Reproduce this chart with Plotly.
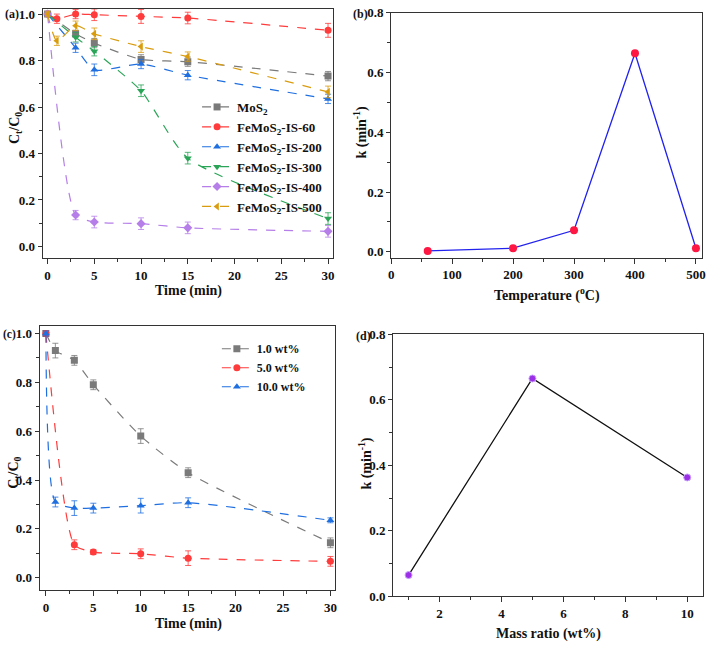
import plotly.graph_objects as go

W, H = 709, 650

# ---------------- data ----------------
# (a) degradation for different calcination temperatures
t_a_mos2 = [0, 3, 5, 10, 15, 30]
c_mos2 = [1.0, 0.915, 0.875, 0.805, 0.795, 0.733]
e_mos2 = [0.01, 0.015, 0.02, 0.02, 0.02, 0.02]

t_a_60 = [0, 1, 3, 5, 10, 15, 30]
c_60 = [1.0, 0.98, 1.0, 0.997, 0.99, 0.983, 0.93]
e_60 = [0.01, 0.02, 0.02, 0.025, 0.03, 0.025, 0.03]

t_a_200 = [0, 3, 5, 10, 15, 30]
c_200 = [1.0, 0.855, 0.76, 0.785, 0.737, 0.635]
e_200 = [0.01, 0.02, 0.025, 0.02, 0.02, 0.02]

t_a_300 = [0, 3, 5, 10, 15, 30]
c_300 = [1.0, 0.90, 0.84, 0.67, 0.38, 0.12]
e_300 = [0.01, 0.02, 0.02, 0.025, 0.025, 0.025]

t_a_400 = [0, 3, 5, 10, 15, 30]
c_400 = [1.0, 0.135, 0.105, 0.098, 0.08, 0.065]
e_400 = [0.01, 0.02, 0.025, 0.025, 0.025, 0.025]

t_a_500 = [0, 1, 3, 5, 10, 15, 30]
c_500 = [1.0, 0.885, 0.95, 0.915, 0.86, 0.817, 0.665]
e_500 = [0.01, 0.02, 0.02, 0.025, 0.025, 0.02, 0.025]

# (b) rate constant vs temperature
temps = [60, 200, 300, 400, 500]
k_temp = [0.003, 0.012, 0.072, 0.665, 0.012]

# (c) degradation for different mass ratios
t_c_1 = [0, 1, 3, 5, 10, 15, 30]
c_1 = [1.0, 0.93, 0.89, 0.79, 0.58, 0.43, 0.143]
e_1 = [0.01, 0.03, 0.02, 0.02, 0.03, 0.02, 0.02]

t_c_5 = [0, 3, 5, 10, 15, 30]
c_5 = [1.0, 0.135, 0.105, 0.098, 0.08, 0.067]
e_5 = [0.01, 0.02, 0.01, 0.02, 0.03, 0.02]

t_c_10 = [0, 1, 3, 5, 10, 15, 30]
c_10 = [1.0, 0.31, 0.285, 0.285, 0.295, 0.307, 0.235]
e_10 = [0.01, 0.02, 0.03, 0.02, 0.03, 0.02, 0.01]

# (d) rate constant vs mass ratio
mass = [1, 5, 10]
k_mass = [0.065, 0.665, 0.363]

# ---------------- helpers ----------------
def px(x):
    return x / W

def py(y):
    return 1 - y / H

FONT = "Liberation Serif"
INK = "#111111"

fig = go.Figure()

def add_series(x, y, e, name, color, symbol, xa, ya, legend, size=7):
    fig.add_trace(go.Scatter(
        x=x, y=y, name=name, mode="lines+markers",
        xaxis=xa, yaxis=ya, legend=legend,
        line=dict(color=color, width=1.2, dash="dash", shape="spline", smoothing=0.6),
        marker=dict(color=color, symbol=symbol, size=size),
        error_y=dict(type="data", array=e, visible=True, color=color,
                     thickness=0.8, width=3),
    ))

# panel (a)
add_series(t_a_mos2, c_mos2, e_mos2, "MoS<sub>2</sub>", "#7a7a7a", "square", "x", "y", "legend")
add_series(t_a_60, c_60, e_60, "FeMoS<sub>2</sub>-IS-60", "#ff3b3b", "circle", "x", "y", "legend")
add_series(t_a_200, c_200, e_200, "FeMoS<sub>2</sub>-IS-200", "#1f6fe0", "triangle-up", "x", "y", "legend")
add_series(t_a_300, c_300, e_300, "FeMoS<sub>2</sub>-IS-300", "#2aa557", "triangle-down", "x", "y", "legend")
add_series(t_a_400, c_400, e_400, "FeMoS<sub>2</sub>-IS-400", "#b57ee8", "diamond", "x", "y", "legend")
add_series(t_a_500, c_500, e_500, "FeMoS<sub>2</sub>-IS-500", "#d99c0f", "triangle-left", "x", "y", "legend")

# panel (b)
fig.add_trace(go.Scatter(
    x=temps, y=k_temp, mode="lines+markers", xaxis="x2", yaxis="y2", showlegend=False,
    line=dict(color="#2222ee", width=1.3),
    marker=dict(color="#ff1744", size=8),
))

# panel (c)
add_series(t_c_1, c_1, e_1, "1.0 wt%", "#7a7a7a", "square", "x3", "y3", "legend2")
add_series(t_c_5, c_5, e_5, "5.0 wt%", "#ff3b3b", "circle", "x3", "y3", "legend2")
add_series(t_c_10, c_10, e_10, "10.0 wt%", "#1f6fe0", "triangle-up", "x3", "y3", "legend2")

# panel (d)
fig.add_trace(go.Scatter(
    x=mass, y=k_mass, mode="lines+markers", xaxis="x4", yaxis="y4", showlegend=False,
    line=dict(color=INK, width=1.3),
    marker=dict(color="#9b30e6", size=7, line=dict(color="#c9a0ff", width=1)),
))

tickfont = dict(family=FONT, size=13, color=INK, weight="bold")

def xaxis(domain, rng, dtick, minor_dtick, anchor, tick0=0):
    return dict(domain=domain, range=rng, anchor=anchor, tick0=tick0, dtick=dtick,
                showgrid=False, zeroline=False, showline=True, linecolor="#333333",
                linewidth=1.2, mirror=True, ticks="outside", ticklen=5, tickcolor="#333333",
                tickfont=tickfont,
                minor=dict(ticks="outside", ticklen=3, dtick=minor_dtick, tick0=tick0,
                           tickcolor="#333333", showgrid=False))

def yaxis(domain, rng, anchor):
    return dict(domain=domain, range=rng, anchor=anchor, tick0=0, dtick=0.2,
                tickformat=".1f",
                showgrid=False, zeroline=False, showline=True, linecolor="#333333",
                linewidth=1.2, mirror=True, ticks="outside", ticklen=4, tickcolor="#333333",
                tickfont=tickfont,
                minor=dict(ticks="outside", ticklen=3, dtick=0.1, tick0=0,
                           tickcolor="#333333", showgrid=False))

fig.update_layout(
    width=W, height=H,
    margin=dict(l=0, r=0, t=0, b=0),
    paper_bgcolor="white", plot_bgcolor="white",
    font=dict(family=FONT, color=INK),
    xaxis=xaxis([px(40), px(333)], [-0.53, 30.5], 5, 2.5, "y"),
    yaxis=yaxis([py(257), py(2)], [-0.05, 1.022], "x"),
    xaxis2=xaxis([px(392), px(706)], [0, 510], 100, 50, "y2"),
    yaxis2=yaxis([py(256.7), py(6)], [-0.02, 0.8], "x2"),
    xaxis3=xaxis([px(37), px(335)], [-0.66, 30.45], 5, 2.5, "y3"),
    yaxis3=yaxis([py(596.7), py(326.7)], [-0.05, 1.03], "x3"),
    xaxis4=xaxis([px(394), px(706.7)], [0.5, 10.5], 2, 1, "y4"),
    yaxis4=yaxis([py(603.3), py(335)], [0, 0.8], "x4"),
    legend=dict(x=px(196), y=py(87), xanchor="left", yanchor="top",
                bgcolor="rgba(0,0,0,0)", itemwidth=30, tracegroupgap=0,
                font=dict(family=FONT, size=13, color=INK, weight="bold")),
    legend2=dict(x=px(216), y=py(335), xanchor="left", yanchor="top",
                 bgcolor="rgba(0,0,0,0)", itemwidth=30, tracegroupgap=0,
                 font=dict(family=FONT, size=12, color=INK, weight="bold")),
)

def ann(text, x, y, angle=0, size=14):
    fig.add_annotation(text=text, x=px(x), y=py(y), xref="paper", yref="paper",
                       showarrow=False, textangle=angle, xanchor="center", yanchor="middle",
                       font=dict(family=FONT, size=size, color=INK, weight="bold"))

# axis titles
ann("Time (min)", 187, 291)
ann("C<sub>t</sub>/C<sub>0</sub>", 12, 124, angle=-90)
ann("Temperature (<sup>o</sup>C)", 549, 294)
ann("k (min<sup>-1</sup>)", 361, 128, angle=-90)
ann("Time (min)", 187, 632)
ann("C<sub>t</sub>/C<sub>0</sub>", 12, 477, angle=-90)
ann("Mass ratio (wt%)", 551, 642)
ann("k (min<sup>-1</sup>)", 366, 467, angle=-90)

# panel labels
ann("(a)", 9, 7, size=12)
ann("(b)", 361, 7, size=12)
ann("(c)", 7, 335, size=11.5)
ann("(d)", 364, 337, size=12)

fig.write_html("out.html", config={"displayModeBar": False},
               post_script="document.body.style.margin='0';document.body.style.overflow='hidden';")
